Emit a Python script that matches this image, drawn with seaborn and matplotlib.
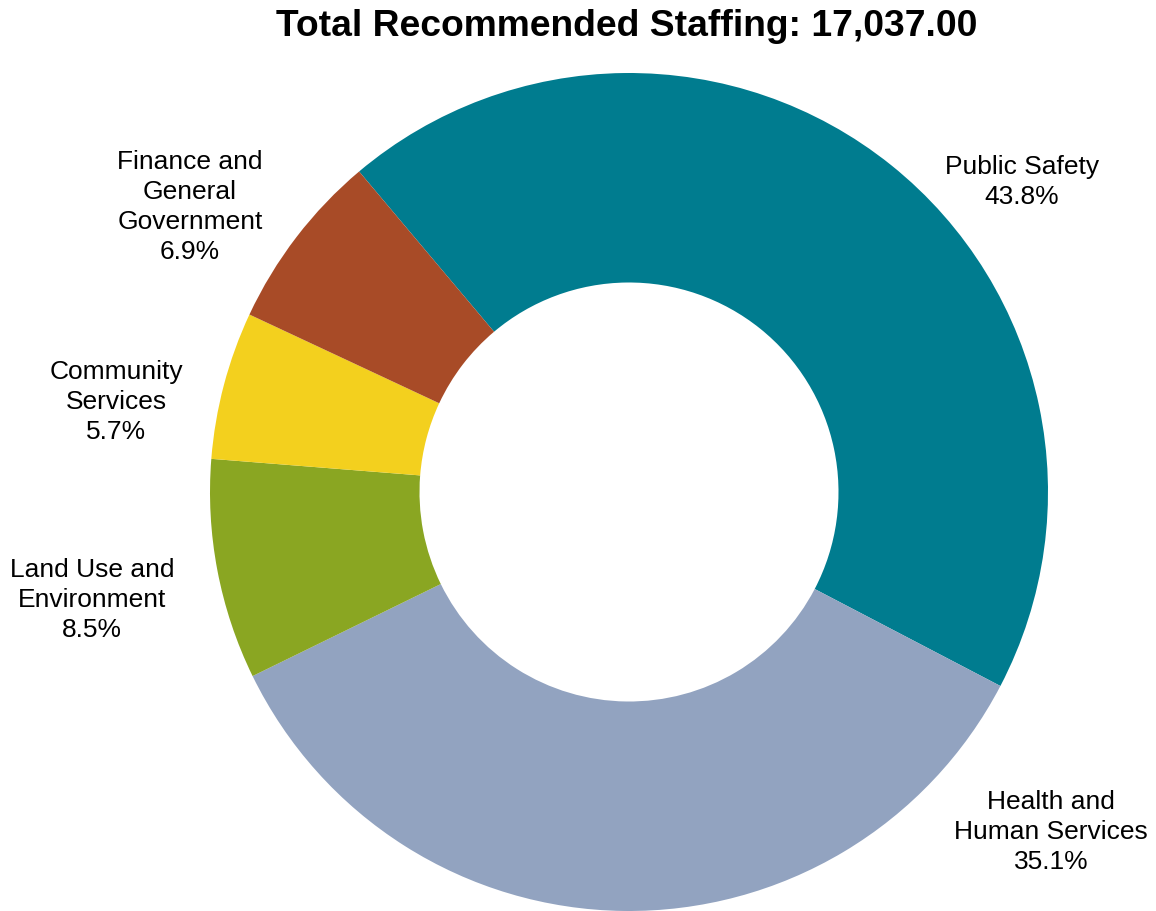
import matplotlib
matplotlib.use("Agg")
import matplotlib.pyplot as plt
import seaborn as sns

sns.set_theme(style="white")
plt.rcParams["font.family"] = ["Liberation Sans", "DejaVu Sans"]

# Staffing share by service area (percent of total)
categories = ["Public Safety", "Health and\nHuman Services", "Land Use and\nEnvironment",
              "Community\nServices", "Finance and\nGeneral\nGovernment"]
shares = [43.8, 35.1, 8.5, 5.7, 6.9]
colors = ["#007C8F", "#92A3C0", "#8AA622", "#F3D01E", "#A84B27"]
total_staffing = 17037.00

W, H = 1156, 911
fig = plt.figure(figsize=(W / 100, H / 100), dpi=100)
ax = fig.add_axes([0, 0, 1, 1])

cx, cy, r = 629, H - 492, 419
wedges, _ = ax.pie(shares, colors=colors, startangle=130.1, counterclock=False,
                   center=(cx, cy), radius=r, frame=True,
                   wedgeprops=dict(width=r * 0.5, linewidth=0))
ax.set_xlim(0, W)
ax.set_ylim(0, H)
ax.set_aspect("equal")
ax.axis("off")

label_pos = [(1022, 182), (1051, 832), (92, 600), (116, 402), (190, 207)]
for name, val, (lx, ly) in zip(categories, shares, label_pos):
    ax.text(lx, H - ly, f"{name}\n{val:.1f}%", ha="center", va="center",
            fontsize=19, linespacing=1.32, color="black")

ax.text(627, H - 26, f"Total Recommended Staffing: {total_staffing:,.2f}",
        ha="center", va="center", fontsize=26.8, fontweight="bold", color="black")

fig.savefig("out.png", dpi=100)
